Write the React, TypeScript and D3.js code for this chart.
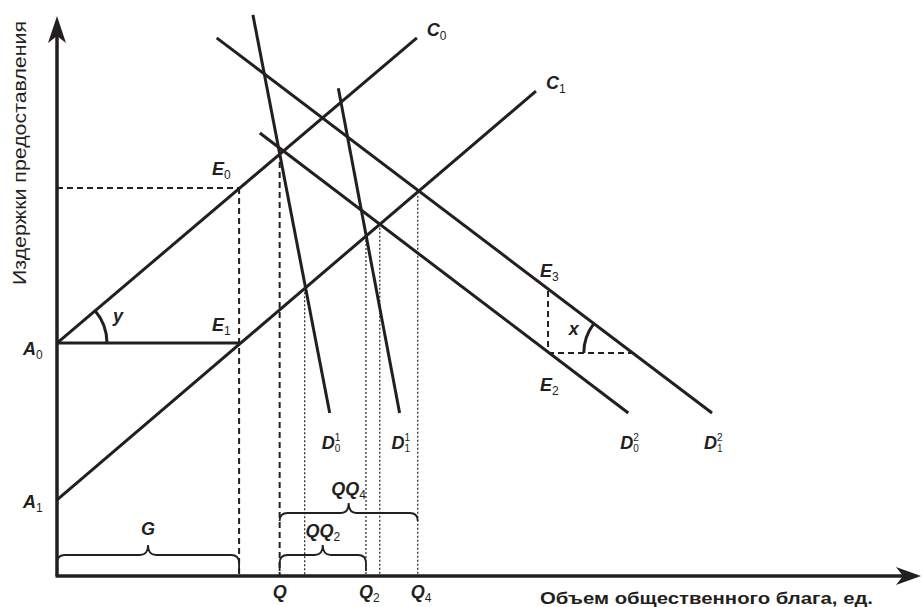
import React from "react";
import * as d3 from "d3";

// chart units: x 0..100 along the quantity axis, y 0..100 along the cost axis
const costLines = [
  { id: "C", sub: "0", from: [0, 41.6], to: [41.7, 96.1] },
  { id: "C", sub: "1", from: [0, 13.6], to: [55.5, 86.6] },
];

const demandLines = [
  { sup: "1", sub: "0", from: [22.7, 100.2], to: [31.6, 29.1] },
  { sup: "1", sub: "1", from: [32.6, 87.1], to: [39.7, 29.1] },
  { sup: "2", sub: "0", from: [23.5, 79.1], to: [66.2, 29.1] },
  { sup: "2", sub: "1", from: [18.5, 96.1], to: [75.9, 29.1] },
];

const pointE0 = [21.1, 69.3];
const pointE1 = [21.1, 41.6];
const pointQ = [25.8, 75.7];
const pointE3 = [56.9, 50.9];
const pointE2 = [56.9, 39.8];
const pointX = [66.6, 39.8];

// points where C1 crosses the demand curves
const dropPoints = [
  [28.7, 51.4],
  [35.8, 60.7],
  [37.4, 62.9],
  [41.8, 68.6],
];

const axisTicks = [
  { text: "Q", sub: "", x: 25.8 },
  { text: "Q", sub: "2", x: 35.8 },
  { text: "Q", sub: "4", x: 41.8 },
];

const braces = [
  { label: "G", sub: "", from: 0, to: 21.1, level: 3.75, end: 0.9 },
  { label: "QQ", sub: "2", from: 25.8, to: 35.8, level: 3.75, end: 0.9 },
  { label: "QQ", sub: "4", from: 25.8, to: 41.8, level: 11.25, end: 9.8 },
];

const xTitle = "Объем общественного блага, ед.";
const yTitle = "Издержки предоставления";

const font = "'Liberation Sans', Arial, sans-serif";

const x = d3.scaleLinear().domain([0, 100]).range([57, 920]);
const y = d3.scaleLinear().domain([0, 100]).range([576, 16]);

function Label({ px, py, text, sub, anchor }: any) {
  return (
    <text x={px} y={py} fontFamily={font} fontSize={18} fontWeight="bold" fontStyle="italic"
      textAnchor={anchor || "start"} fill="#231f20">
      {text}
      {sub ? <tspan fontSize={12} fontWeight="normal" fontStyle="normal" dy={4}>{sub}</tspan> : null}
    </text>
  );
}

function DLabel({ px, py, sup, sub }: any) {
  return (
    <g fontFamily={font} fill="#231f20">
      <text x={px} y={py} fontSize={18} fontWeight="bold" fontStyle="italic">D</text>
      <text x={px + 13} y={py - 8} fontSize={10}>{sup}</text>
      <text x={px + 13} y={py + 3} fontSize={10}>{sub}</text>
    </g>
  );
}

function bracePath(x1: number, x2: number, yl: number, ye: number) {
  const r = 8;
  const t = 10;
  const m = (x1 + x2) / 2;
  return `M${x1},${ye} L${x1},${yl + r} Q${x1},${yl} ${x1 + r},${yl} L${m - r},${yl} Q${m},${yl} ${m},${yl - t}` +
    ` Q${m},${yl} ${m + r},${yl} L${x2 - r},${yl} Q${x2},${yl} ${x2},${yl + r} L${x2},${ye}`;
}

function arcPath(cx: number, cy: number, r: number, a0: number, a1: number, sweep: number) {
  const p0 = [cx + r * Math.cos(a0), cy - r * Math.sin(a0)];
  const p1 = [cx + r * Math.cos(a1), cy - r * Math.sin(a1)];
  return `M${p0[0]},${p0[1]} A${r},${r} 0 0 ${sweep} ${p1[0]},${p1[1]}`;
}

export default function App() {
  const line = d3.line<number[]>().x((d) => x(d[0])).y((d) => y(d[1]));
  const x0 = x(0), y0 = y(0);

  // angle y at A0 between horizontal and C0
  const c0 = costLines[0];
  const angC = Math.atan2(y(c0.from[1]) - y(c0.to[1]), x(c0.to[0]) - x(c0.from[0]));
  // angle x between horizontal (to the left) and D1^2
  const d12 = demandLines[3];
  const angD = Math.atan2(y(d12.to[1]) - y(d12.from[1]), x(d12.to[0]) - x(d12.from[0]));

  const stroke = "#231f20";

  return (
    <svg width={923} height={607} style={{ position: "absolute", left: 0, top: 0, background: "#fff" }}>
      {/* axes */}
      <line x1={x0} y1={y0} x2={x0} y2={30} stroke={stroke} strokeWidth={3.5} />
      <line x1={x0 - 1.5} y1={y0} x2={905} y2={y0} stroke={stroke} strokeWidth={3.5} />
      <path d={`M${x0},16 L${x0 + 9},43 L${x0},36 L${x0 - 9},43 Z`} fill={stroke} />
      <path d={`M921,${y0} L896,${y0 - 9} L903,${y0} L896,${y0 + 9} Z`} fill={stroke} />

      {/* dashed guides */}
      <g stroke={stroke} strokeWidth={2} strokeDasharray="6,4" fill="none">
        <line x1={x0} y1={y(pointE0[1])} x2={x(pointE0[0])} y2={y(pointE0[1])} />
        <line x1={x(pointE0[0])} y1={y(pointE0[1])} x2={x(pointE0[0])} y2={y0} />
        <line x1={x(pointQ[0])} y1={y(pointQ[1])} x2={x(pointQ[0])} y2={y0} />
        <line x1={x(pointE3[0])} y1={y(pointE3[1])} x2={x(pointE2[0])} y2={y(pointE2[1])} />
        <line x1={x(pointE2[0])} y1={y(pointE2[1])} x2={x(pointX[0])} y2={y(pointX[1])} />
      </g>

      {/* dotted drops */}
      <g stroke={stroke} strokeWidth={1.2} strokeDasharray="2,2">
        {dropPoints.map((p, i) => (
          <line key={i} x1={x(p[0])} y1={y(p[1])} x2={x(p[0])} y2={y0} />
        ))}
      </g>

      {/* solid lines */}
      <g stroke={stroke} strokeWidth={3} fill="none">
        {costLines.map((c, i) => <path key={"c" + i} d={line([c.from, c.to])!} />)}
        {demandLines.map((c, i) => <path key={"d" + i} d={line([c.from, c.to])!} />)}
        <line x1={x0} y1={y(pointE1[1])} x2={x(pointE1[0])} y2={y(pointE1[1])} />
        <path d={arcPath(x0, y(pointE1[1]), 50, 0, angC, 0)} />
        <path d={arcPath(x(pointX[0]), y(pointX[1]), 48, Math.PI, Math.PI - angD, 1)} />
      </g>

      {/* braces */}
      <g stroke={stroke} strokeWidth={1.8} fill="none">
        {braces.map((b, i) => (
          <path key={i} d={bracePath(x(b.from), x(b.to), y(b.level), y(b.end))} />
        ))}
      </g>

      {/* labels */}
      {costLines.map((c, i) => (
        <Label key={"cl" + i} px={x(c.to[0]) + 10} py={y(c.to[1]) - 2} text={c.id} sub={c.sub} />
      ))}
      {demandLines.map((c, i) => (
        <DLabel key={"dl" + i} px={x(c.to[0]) - 8} py={y(c.to[1]) + 36} sup={c.sup} sub={c.sub} />
      ))}
      <Label px={x(pointE0[0]) - 27} py={y(pointE0[1]) - 13} text="E" sub="0" />
      <Label px={x(pointE1[0]) - 27} py={y(pointE1[1]) - 12} text="E" sub="1" />
      <Label px={x(pointE3[0]) - 8} py={y(pointE3[1]) - 14} text="E" sub="3" />
      <Label px={x(pointE2[0]) - 8} py={y(pointE2[1]) + 38} text="E" sub="2" />
      <Label px={x0 - 34} py={y(costLines[0].from[1]) + 12} text="A" sub="0" />
      <Label px={x0 - 34} py={y(costLines[1].from[1]) + 8} text="A" sub="1" />
      <Label px={x0 + 56} py={y(pointE1[1]) - 21} text="y" />
      <Label px={x(pointX[0]) - 63} py={y(pointX[1]) - 18} text="x" />
      {axisTicks.map((t, i) => (
        <Label key={"t" + i} px={x(t.x) - 7} py={y0 + 22} text={t.text} sub={t.sub} />
      ))}
      {braces.map((b, i) => (
        <Label key={"b" + i} px={(x(b.from) + x(b.to)) / 2} py={y(b.level) - (b.sub ? 18 : 20)}
          text={b.label} sub={b.sub} anchor="middle" />
      ))}

      {/* axis titles */}
      <text x={540} y={604} fontFamily={font} fontSize={17} fontWeight="bold" fill={stroke}
        textLength={333} lengthAdjust="spacingAndGlyphs">{xTitle}</text>
      <text transform="translate(26,153) rotate(-90)" textAnchor="middle" fontFamily={font} fontSize={19}
        fill={stroke} textLength={264} lengthAdjust="spacingAndGlyphs">{yTitle}</text>
    </svg>
  );
}
